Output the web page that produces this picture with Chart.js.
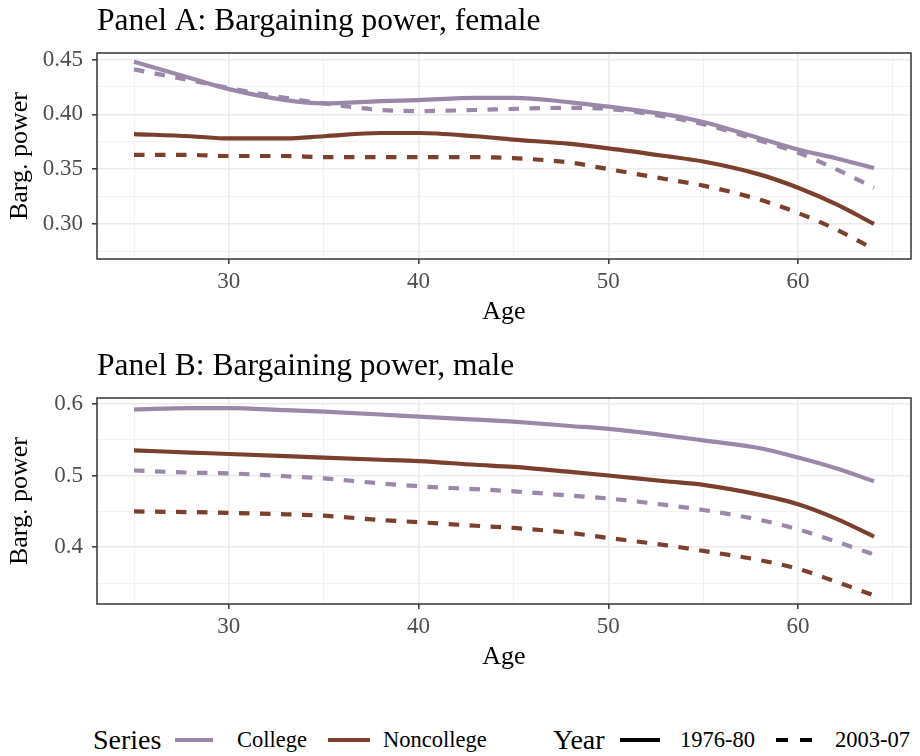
<!DOCTYPE html>
<html>
<head>
<meta charset="utf-8">
<script src="https://cdn.jsdelivr.net/npm/chart.js@4.4.1/dist/chart.umd.min.js"></script>
<style>
  body { margin: 0; background: #fff; font-family: "Liberation Serif", serif; }
  #wrap { position: relative; width: 920px; height: 756px; }
  .panel { position: absolute; left: 0; width: 920px; height: 340px; }
  #legend { position: absolute; left: 0; top: 722px; width: 920px; height: 36px; }
  #legend > * { position: absolute; top: 50%; transform: translateY(-50%); }
  .ltitle { font-size: 28px; color: #000; }
  .llabel { font-size: 22.5px; color: #000; }
  .key { height: 4px; }
  .dash { height: 4px; background: repeating-linear-gradient(90deg, #000 0 12px, transparent 12px 24px); }
</style>
</head>
<body>
<div id="wrap">
  <div class="panel" style="top:0"><canvas id="panelA"></canvas></div>
  <div class="panel" style="top:345px"><canvas id="panelB"></canvas></div>
  <div id="legend">
    <span class="ltitle" style="left:93px">Series</span>
    <div class="key" style="left:175px;width:38px;background:#9a87a9"></div>
    <span class="llabel" style="left:237px">College</span>
    <div class="key" style="left:328px;width:42px;background:#7b3f2b"></div>
    <span class="llabel" style="left:383px">Noncollege</span>
    <span class="ltitle" style="left:553px">Year</span>
    <div class="key" style="left:620px;width:40px;background:#000"></div>
    <span class="llabel" style="left:680px">1976-80</span>
    <div class="dash" style="left:776px;width:36px"></div>
    <span class="llabel" style="left:835px">2003-07</span>
  </div>
</div>
<script>
var ages = [25, 28, 30, 33, 35, 38, 40, 43, 45, 48, 50, 53, 55, 58, 60, 62, 64];

// Panel A: female
var femCollege7680 = [0.448, 0.433, 0.423, 0.413, 0.410, 0.412, 0.413, 0.415, 0.415, 0.411, 0.407, 0.400, 0.393, 0.378, 0.368, 0.360, 0.351];
var femCollege0307 = [0.441, 0.431, 0.424, 0.415, 0.410, 0.404, 0.403, 0.404, 0.405, 0.406, 0.405, 0.398, 0.391, 0.376, 0.365, 0.350, 0.333];
var femNoncol7680  = [0.382, 0.380, 0.378, 0.378, 0.380, 0.383, 0.383, 0.380, 0.377, 0.373, 0.369, 0.362, 0.357, 0.345, 0.333, 0.318, 0.300];
var femNoncol0307  = [0.363, 0.363, 0.362, 0.362, 0.361, 0.361, 0.361, 0.361, 0.360, 0.356, 0.350, 0.341, 0.335, 0.322, 0.310, 0.295, 0.277];

// Panel B: male
var maleCollege7680 = [0.592, 0.594, 0.594, 0.591, 0.589, 0.585, 0.582, 0.578, 0.575, 0.569, 0.565, 0.556, 0.549, 0.538, 0.525, 0.510, 0.492];
var maleCollege0307 = [0.507, 0.504, 0.503, 0.499, 0.496, 0.489, 0.485, 0.481, 0.478, 0.472, 0.468, 0.459, 0.452, 0.438, 0.425, 0.408, 0.390];
var maleNoncol7680  = [0.535, 0.532, 0.530, 0.527, 0.525, 0.522, 0.520, 0.515, 0.512, 0.505, 0.500, 0.492, 0.487, 0.473, 0.460, 0.440, 0.415];
var maleNoncol0307  = [0.450, 0.449, 0.448, 0.446, 0.444, 0.438, 0.435, 0.430, 0.427, 0.420, 0.413, 0.403, 0.395, 0.382, 0.370, 0.352, 0.333];

var xMajor = [30, 40, 50, 60];
var xMinor = [25, 35, 45, 55, 65];
var yMajorA = [0.30, 0.35, 0.40, 0.45];
var yMinorA = [0.275, 0.325, 0.375, 0.425];
var yMajorB = [0.4, 0.5, 0.6];
var yMinorB = [0.35, 0.45, 0.55];

var PURPLE = '#9a87a9';
var BROWN = '#7b3f2b';
var FONT = "'Liberation Serif', 'Times New Roman', serif";

function pts(vals) {
  return ages.map(function (a, i) { return { x: a, y: vals[i] }; });
}

function isIn(list, v) {
  return list.some(function (m) { return Math.abs(m - v) < 1e-9; });
}

function line(vals, color, dashed) {
  return {
    data: pts(vals),
    borderColor: color,
    borderWidth: 4.2,
    borderDash: dashed ? [10.5, 10.5] : [],
    borderCapStyle: 'butt',
    pointRadius: 0,
    cubicInterpolationMode: 'monotone',
    fill: false
  };
}

// panel title + frame around the plotting area
var panelDeco = {
  id: 'panelDeco',
  afterDraw: function (chart, args, opts) {
    var ctx = chart.ctx, a = chart.chartArea;
    ctx.save();
    ctx.strokeStyle = '#333';
    ctx.lineWidth = 1.5;
    ctx.strokeRect(a.left, a.top, a.right - a.left, a.bottom - a.top);
    ctx.fillStyle = '#000';
    ctx.font = '31.5px ' + FONT;
    ctx.textAlign = 'left';
    ctx.textBaseline = 'alphabetic';
    ctx.fillText(opts.text, a.left, a.top - 23);
    ctx.restore();
  }
};

function makePanel(id, title, series, yMin, yMax, yMajor, yMinor, digits) {
  var yTicks = yMajor.concat(yMinor).sort(function (a, b) { return a - b; });
  var xTicks = xMajor.concat(xMinor).sort(function (a, b) { return a - b; });
  new Chart(document.getElementById(id), {
    type: 'line',
    data: { datasets: series },
    plugins: [panelDeco],
    options: {
      responsive: true,
      maintainAspectRatio: false,
      animation: false,
      layout: { padding: { top: 53, right: 9, bottom: 6, left: 0 } },
      plugins: {
        legend: { display: false },
        tooltip: { enabled: false },
        panelDeco: { text: title }
      },
      scales: {
        x: {
          type: 'linear',
          min: 23.05,
          max: 65.95,
          afterBuildTicks: function (s) { s.ticks = xTicks.map(function (v) { return { value: v }; }); },
          afterFit: function (s) { s.height = 75; },
          border: { display: false },
          grid: {
            color: function (c) { return isIn(xMajor, c.tick.value) ? '#ebebeb' : '#f2f2f2'; },
            lineWidth: function (c) { return isIn(xMajor, c.tick.value) ? 1.6 : 1; },
            tickColor: function (c) { return isIn(xMajor, c.tick.value) ? '#333' : 'rgba(0,0,0,0)'; },
            tickLength: 5,
            tickWidth: 1.5
          },
          ticks: {
            color: '#4d4d4d',
            font: { family: FONT, size: 23 },
            padding: 4,
            maxRotation: 0,
            autoSkip: false,
            callback: function (v) { return isIn(xMajor, v) ? String(v) : ''; }
          },
          title: {
            display: true,
            text: 'Age',
            color: '#000',
            font: { family: FONT, size: 26 },
            padding: { top: 0, bottom: 6 }
          }
        },
        y: {
          min: yMin,
          max: yMax,
          afterBuildTicks: function (s) { s.ticks = yTicks.map(function (v) { return { value: v }; }); },
          afterFit: function (s) { s.width = 97; },
          border: { display: false },
          grid: {
            color: function (c) { return isIn(yMajor, c.tick.value) ? '#ebebeb' : '#f2f2f2'; },
            lineWidth: function (c) { return isIn(yMajor, c.tick.value) ? 1.6 : 1; },
            tickColor: function (c) { return isIn(yMajor, c.tick.value) ? '#333' : 'rgba(0,0,0,0)'; },
            tickLength: 5,
            tickWidth: 1.5
          },
          ticks: {
            color: '#4d4d4d',
            font: { family: FONT, size: 23 },
            padding: 9,
            autoSkip: false,
            callback: function (v) { return isIn(yMajor, v) ? v.toFixed(digits) : ''; }
          },
          title: {
            display: true,
            text: 'Barg. power',
            color: '#000',
            font: { family: FONT, size: 26 },
            padding: { top: 5, bottom: 0 }
          }
        }
      }
    }
  });
}

makePanel('panelA', 'Panel A: Bargaining power, female', [
  line(femCollege7680, PURPLE, false),
  line(femCollege0307, PURPLE, true),
  line(femNoncol7680, BROWN, false),
  line(femNoncol0307, BROWN, true)
], 0.268, 0.456, yMajorA, yMinorA, 2);

makePanel('panelB', 'Panel B: Bargaining power, male', [
  line(maleCollege7680, PURPLE, false),
  line(maleCollege0307, PURPLE, true),
  line(maleNoncol7680, BROWN, false),
  line(maleNoncol0307, BROWN, true)
], 0.321, 0.608, yMajorB, yMinorB, 1);
</script>
</body>
</html>
